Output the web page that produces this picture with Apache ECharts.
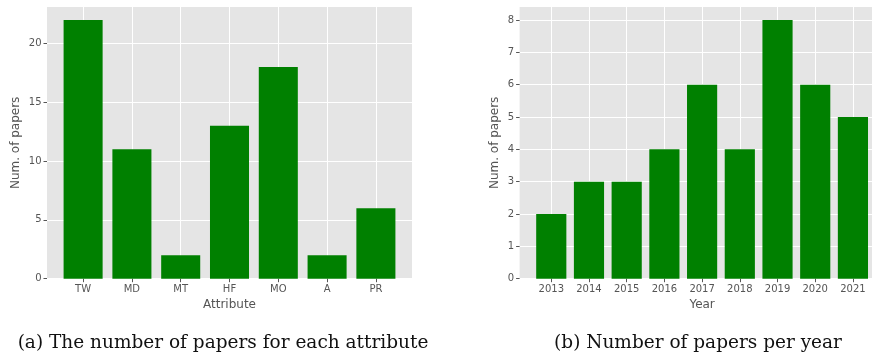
<!DOCTYPE html>
<html>
<head>
<meta charset="utf-8">
<script src="https://cdn.jsdelivr.net/npm/echarts@6/dist/echarts.min.js"></script>
<style>
html,body{margin:0;padding:0;background:#fff;}
#c{width:872px;height:358px;}
</style>
</head>
<body>
<div id="c"></div>
<script>
const attrCategories = ['TW', 'MD', 'MT', 'HF', 'MO', 'A', 'PR'];
const attrCounts = [22, 11, 2, 13, 18, 2, 6];
const attrYTicks = [0, 5, 10, 15, 20];

const yearCategories = ['2013', '2014', '2015', '2016', '2017', '2018', '2019', '2020', '2021'];
const yearCounts = [2, 3, 3, 4, 6, 4, 8, 6, 5];
const yearYTicks = [0, 1, 2, 3, 4, 5, 6, 7, 8];

const captionA = '(a) The number of papers for each attribute';
const captionB = '(b) Number of papers per year';

const GREY = '#555555';
const FONT = 'DejaVu Sans';

function xAxisFor(gridIndex, cats, name) {
  const n = cats.length;
  const pad = 0.05 * (n - 1 + 0.8);
  const idx = cats.map((c, i) => i);
  return {
    type: 'value', gridIndex: gridIndex,
    min: -0.4 - pad, max: n - 1 + 0.4 + pad,
    name: name, nameLocation: 'middle', nameGap: 19,
    nameTextStyle: {color: GREY, fontSize: 12, fontFamily: FONT},
    axisLine: {show: false, onZero: false},
    axisTick: {show: true, length: 3.5, lineStyle: {color: GREY, width: 1}, customValues: idx},
    axisLabel: {color: GREY, fontSize: 10, fontFamily: FONT, margin: 5.5, customValues: idx,
      formatter: v => cats[Math.round(v)]},
    splitLine: {show: true, lineStyle: {color: '#ffffff', width: 1}}
  };
}
function yAxisFor(gridIndex, ticks, maxVal, nameGap) {
  return {
    type: 'value', gridIndex: gridIndex,
    min: 0, max: maxVal * 1.05,
    name: 'Num. of papers', nameLocation: 'middle', nameGap: nameGap,
    nameTextStyle: {color: GREY, fontSize: 12, fontFamily: FONT},
    axisLine: {show: false, onZero: false},
    axisTick: {show: true, length: 3.5, lineStyle: {color: GREY, width: 1}, customValues: ticks},
    axisLabel: {color: GREY, fontSize: 10, fontFamily: FONT, margin: 5.5, customValues: ticks},
    splitLine: {show: true, lineStyle: {color: '#ffffff', width: 1}}
  };
}

const chart = echarts.init(document.getElementById('c'), null, {renderer: 'canvas'});
chart.setOption({
  animation: false,
  grid: [
    {left: 47, top: 7, width: 365, height: 271.7, show: true, backgroundColor: '#E5E5E5', borderWidth: 0,
     outerBoundsMode: 'none', containLabel: false},
    {left: 519.6, top: 7, width: 365, height: 271.7, show: true, backgroundColor: '#E5E5E5', borderWidth: 0,
     outerBoundsMode: 'none', containLabel: false}
  ],
  xAxis: [xAxisFor(0, attrCategories, 'Attribute'), xAxisFor(1, yearCategories, 'Year')],
  yAxis: [yAxisFor(0, attrYTicks, Math.max(...attrCounts), 25), yAxisFor(1, yearYTicks, Math.max(...yearCounts), 18.5)],
  series: [
    {type: 'bar', xAxisIndex: 0, yAxisIndex: 0, barWidth: '80%', itemStyle: {color: '#008000'},
     data: attrCounts.map((v, i) => [i, v])},
    {type: 'bar', xAxisIndex: 1, yAxisIndex: 1, barWidth: '80%', itemStyle: {color: '#008000'},
     data: yearCounts.map((v, i) => [i, v])}
  ],
  graphic: [
    {type: 'text', x: 223, y: 343.5, style: {text: captionA, font: '18.5px "DejaVu Serif"', fill: '#111', align: 'center', verticalAlign: 'middle'}},
    {type: 'text', x: 698, y: 343.5, style: {text: captionB, font: '18.5px "DejaVu Serif"', fill: '#111', align: 'center', verticalAlign: 'middle'}}
  ]
});
</script>
</body>
</html>
